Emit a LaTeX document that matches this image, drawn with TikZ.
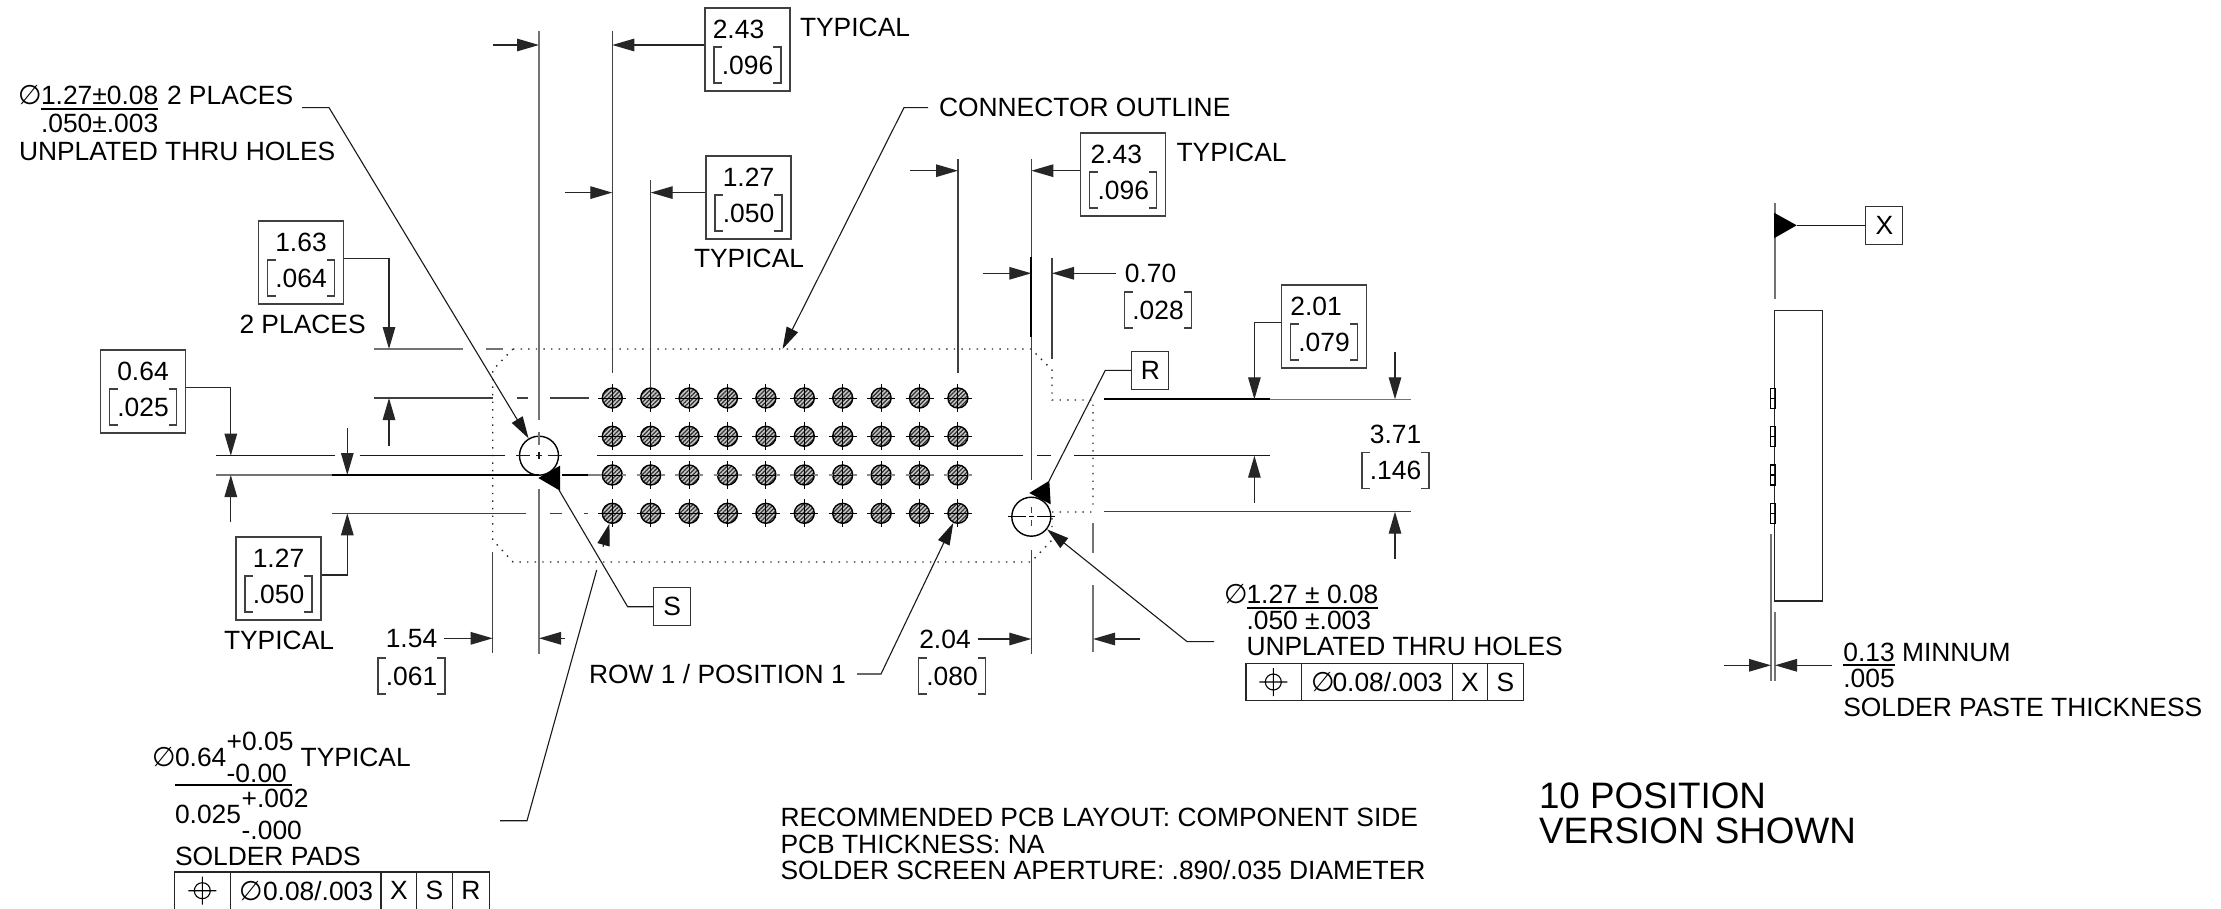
\documentclass[tikz,border=0pt]{standalone}
\usepackage{fontspec}
\setmainfont{Liberation Sans}
\newfontfamily\djv{DejaVu Sans}
\usetikzlibrary{arrows.meta,patterns.meta,calc}
\newcommand{\fs}{\fontsize{26.4}{30}\selectfont}
\newcommand{\fsb}{\fontsize{36.8}{42}\selectfont}
\newcommand{\dia}{{\djv\fontsize{27}{30}\selectfont ∅}}
\tikzset{
  ln/.style={line width=1.3pt,black!75},
  lng/.style={line width=1.6pt,black!55},
  thk/.style={line width=2.2pt,black},
  ldr/.style={line width=1.1pt,black!90},
  dotl/.style={line width=1.4pt,black!85,dash pattern=on 1.4pt off 6.2pt},
  arr/.style={-{Triangle[length=22pt,width=12.5pt]},line width=1.3pt,black!85},
  arrt/.style={-{Triangle[length=22pt,width=12.5pt]},ldr},
  txt/.style={font=\fs,inner sep=0pt,outer sep=0pt,text=black},
  lbl/.style={txt,anchor=base west},
  ctr/.style={txt,anchor=center},
  dbox/.style={draw=black!75,line width=1.3pt,minimum width=85pt,minimum height=83pt,inner sep=0pt},
  lbox/.style={draw=black!80,line width=1.3pt,minimum width=37pt,minimum height=38pt,inner sep=0pt,font=\fs},
  pad/.style={circle,draw=black,line width=1.4pt,minimum size=20pt,inner sep=0pt,
     preaction={fill=black!22},pattern={Lines[angle=45,distance=3pt,line width=1.25pt]},pattern color=black!80},
  hole/.style={circle,draw=black,line width=1.4pt,minimum size=39pt,inner sep=0pt},
  brkl/.style={line width=1.1pt,black!75},
  frm/.style={line width=1.3pt,black!85},
  ul/.style={line width=1.8pt,black},
}
% bracketed value: name, x, y, text
\newcommand{\brk}[4]{%
  \node[ctr] (#1) at (#2,#3) {#4};
  \draw[brkl] ({#2-25.5},{#3-18}) -- ({#2-33.5},{#3-18}) -- ({#2-33.5},{#3+18}) -- ({#2-25.5},{#3+18});
  \draw[brkl] ({#2+25.5},{#3-18}) -- ({#2+33.5},{#3-18}) -- ({#2+33.5},{#3+18}) -- ({#2+25.5},{#3+18});
}
% boxed dimension: name, cx, top, value dx, value, bracket text
\newcommand{\dimbox}[6]{%
  \node[dbox] (#1) at (#2,{#3+41.5}) {};
  \node[ctr] (#1v) at ({#2+#4},{#3+21}) {#5};
  \brk{#1b}{#2}{#3+57}{#6}
}
\begin{document}
\begin{tikzpicture}[x=1pt,y=-1pt]
\useasboundingbox (0,0) rectangle (2221,909);
\fill[white] (0,0) rectangle (2221,909);

% connector outline (dotted)
\draw[dotl] (513,349) -- (1031,349) -- (1052,370) -- (1052,400) -- (1093,400) -- (1093,505);
\draw[dotl] (513,349) -- (492.7,370) -- (492.7,540) -- (513,562) -- (1031,562) -- (1052,540) -- (1052,512) -- (1093,512);

% pads
\foreach \c in {1,...,10}{
 \foreach \r/\py in {1/398,2/436.3,3/475,4/513.3}{
  \pgfmathsetmacro\px{612.3+38.4*(\c-1)}
  \node[pad] (p\c-\r) at (\px,\py) {};
  \draw[line width=1pt,black] ({\px-14},\py) -- ({\px+14},\py) ({\px},{\py-14}) -- ({\px},{\py+14});
 }
}
\foreach \c in {1,...,10}{\pgfmathsetmacro\px{612.3+38.4*(\c-1)}
  \draw[line width=1.6pt,black!45] ({\px-14},475) -- ({\px-10},475) ({\px+10},475) -- ({\px+14},475);}

% holes
\node[hole] (hl) at (539,455.7) {};
\node[hole] (hr) at (1031.3,516.7) {};

% horizontal extension lines, left
\draw[lng] (374,349) -- (462.5,349) (486,349) -- (502.6,349);
\draw[ln] (374,398) -- (493,398);
\draw[ln] (517,398) -- (527.6,398) (550,398) -- (588.5,398);
\draw[ldr] (215.7,455.7) -- (335,455.7) (359.6,455.7) -- (505,455.7) (516,455.7) -- (530,455.7) (536,455.7) -- (542,455.7) (548,455.7) -- (562,455.7);
\draw[ldr] (597,455.7) -- (1023,455.7) (1037,455.7) -- (1051,455.7) (1074,455.7) -- (1270,455.7);
\draw[lng] (215.7,475) -- (331.8,475);
\draw[thk] (331.8,475) -- (539,475) (562,475) -- (588,475);
\draw[line width=1.6pt,black!50] (588,475) -- (600,475);
\draw[ln] (331.8,513.3) -- (526,513.3) (550,513.3) -- (561.6,513.3) (584,513.3) -- (588,513.3);
% horizontal extension lines, right
\draw[line width=1.8pt,black] (1103.8,399.3) -- (1270,399.3);
\draw[lng] (1270,399.3) -- (1411,399.3);
\draw[ln] (1103.8,511.7) -- (1411,511.7);

% vertical extension lines
\draw[lng] (539,31) -- (539,420) (539,432) -- (539,445);
\draw[ldr] (539,452) -- (539,459);
\draw[lng] (539,489) -- (539,654);
\draw[ln] (612.3,31) -- (612.3,373);
\draw[ln] (650.7,180) -- (650.7,388);
\draw[ln] (958,159) -- (958,373);
\draw[ln] (1031.3,159) -- (1031.3,480) (1031.3,507) -- (1031.3,513) (1031.3,520) -- (1031.3,526);
\draw[thk] (1031.3,257) -- (1031.3,337);
\draw[ln] (1031.3,550) -- (1031.3,654);
\draw[ln] (1052,258) -- (1052,359);
\draw[ln] (492.7,552) -- (492.7,653.3);
\draw[lng] (1093,523) -- (1093,553) (1093,585) -- (1093,652);
\draw[line width=1.1pt,black] (1008,516.7) -- (1026,516.7) (1029,516.7) -- (1034,516.7) (1037,516.7) -- (1055,516.7);

% dimension boxes
\dimbox{dA}{747.5}{8}{-9}{2.43}{.096}
\node[lbl] (tA) at (800,37) {TYPICAL};
\dimbox{dB}{748.5}{156}{0}{1.27}{.050}
\node[lbl] (tB) at (694,268) {TYPICAL};
\dimbox{dC}{1123.3}{133}{-7}{2.43}{.096}
\node[lbl] (tC) at (1176.5,162) {TYPICAL};
\dimbox{dD}{1324}{285}{-8}{2.01}{.079}
\dimbox{dE}{301}{221}{0}{1.63}{.064}
\node[lbl] (tE) at (239.5,333) {2 PLACES};
\dimbox{dF}{143}{350}{0}{0.64}{.025}
\dimbox{dG}{278.5}{537}{0}{1.27}{.050}
\node[lbl] (tG) at (224,649) {TYPICAL};

% free dimensions
\node[ctr] (v070) at (1150.6,273.3) {0.70};
\brk{b028}{1158}{310}{.028}
\node[ctr] (v371) at (1395.5,434) {3.71};
\brk{b146}{1395.5}{470.7}{.146}
\node[ctr] (v154) at (411.5,638.3) {1.54};
\brk{b061}{411.5}{676}{.061}
\node[ctr] (v204) at (945,639) {2.04};
\brk{b080}{952}{676}{.080}

% dimension arrows
\coordinate (a1) at (493,45); \coordinate (a1t) at (539,45);
\draw[arr] (a1) -- (a1t);
\draw[arr] (dA.west |- a1) -- (612.3,45);
\draw[arr] (565,192.6) -- (612.3,192.6);
\draw[arr] (dB.west |- 0,192.6) -- (650.7,192.6);
\draw[arr] (910,170.7) -- (958,170.7);
\draw[arr] (dC.west |- 0,170.7) -- (1031.3,170.7);
\draw[arr] (983,273.3) -- (1031.3,273.3);
\draw[arr] (v070.west) ++(-9,0) -- (1052,273.3);
\draw[arr] (dE.east |- 0,258.7) -- (389,258.7) -- (389,349);
\draw[arr] (389,445.7) -- (389,398);
\draw[arr] (dF.east |- 0,387.7) -- (230.8,387.7) -- (230.8,455.7);
\draw[arr] (230.8,522) -- (230.8,475);
\draw[arr] (347.3,427.7) -- (347.3,475);
\draw[arr] (dG.east |- 0,575) -- (347.3,575) -- (347.3,513.3);
\draw[arr] (dD.west |- 0,322.7) -- (1254.4,322.7) -- (1254.4,399.3);
\draw[arr] (1395,352) -- (1395,399.3);
\draw[arr] (1254.4,503) -- (1254.4,455.7);
\draw[arr] (1395,559) -- (1395,511.7);
\draw[arr] (v154.east) ++(7,0) -- (492.7,638.3);
\draw[arr] (565,638.3) -- (539,638.3);
\draw[arr] (v204.east) ++(7,0) -- (1031.3,639);
\draw[arr] (1140,639) -- (1093,639);

% top-left note
\node[lbl] (dl) at (18,105) {\dia};
\node[lbl] (n1a) at (41,105) {1.27±0.08};
\node[lbl] (n1b) at (167,105) {2 PLACES};
\node[lbl] (n1c) at (41,132.5) {.050±.003};
\node[lbl] (n1d) at (19,160.2) {UNPLATED THRU HOLES};
\draw[ul] ([yshift=-4pt]n1a.south west) -- ([yshift=-4pt]n1a.south east);
\coordinate (e1) at (329,107.6);
\draw[arrt] (302,107.6) -- (e1) -- (hl);

% connector outline label
\node[lbl] (co) at (939,117) {CONNECTOR OUTLINE};
\coordinate (e2) at (904,107.6);
\draw[arrt] (928,107.6) -- (e2) -- (782.5,349);

% datum S
\node[lbox] (S) at (672.2,606.7) {S};
\coordinate (e3) at (627.6,606.7);
\draw[ldr] (S.west) -- (e3) -- (559,490);
\fill[black] (538.3,478) -- (560,465.7) -- (560,490.7) -- cycle;

% datum R
\node[lbox] (R) at (1150.3,370.3) {R};
\coordinate (e4) at (1105.3,370.3);
\draw[ldr] (R.west) -- (e4) -- (1049,481);
\fill[black] (1029.3,493) -- (1049.3,480.7) -- (1050.7,504.3) -- cycle;

% row 1 position 1
\node[lbl] (rp) at (589,683) {ROW 1 / POSITION 1};
\coordinate (e5) at (881,674);
\draw[arrt] (857,674) -- (e5) -- (p10-4);

% right hole note
\node[lbl] (n2z) at (1224,603.5) {\dia};
\node[lbl] (n2a) at (1246.5,603.5) {1.27 ± 0.08};
\node[lbl] (n2b) at (1246.5,629.5) {.050 ±.003};
\node[lbl] (n2c) at (1246.5,655) {UNPLATED THRU HOLES};
\draw[ul] ([yshift=-4pt]n2a.south west) -- ([yshift=-4pt]n2a.south east);
\coordinate (e6) at (1187,641.6);
\draw[arrt] (1214,641.6) -- (e6) -- (hr);

% right frame
\draw[frm] (1246,663.3) rectangle (1523.3,700.7);
\draw[frm] (1301.7,663.3) -- (1301.7,700.7) (1452.3,663.3) -- (1452.3,700.7) (1487.7,663.3) -- (1487.7,700.7);
\node[ctr] (f1) at (1273.3,682) {};
\draw[line width=1.1pt,black] (f1) circle (8) ({1273.3-14},682) -- ({1273.3+14},682) (1273.3,668) -- (1273.3,696);
\node[lbl] (f2a) at (1311,691.5) {\dia};
\node[lbl] (f2) at (1332.5,691.5) {0.08/.003};
\node[ctr] (f3) at (1470,682) {X};
\node[ctr] (f4) at (1505.5,682) {S};

% bottom-left note
\node[lbl] (n3z) at (152,766.7) {\dia};
\node[lbl] (n3a) at (175,766.7) {0.64};
\node[lbl] (n3b) at (226.7,750.7) {+0.05};
\node[lbl] (n3c) at (226.7,782.7) {-0.00};
\node[lbl] (n3d) at (300.7,766.7) {TYPICAL};
\draw[ul] (175,785) -- (292,785);
\node[lbl] (n3e) at (175,823) {0.025};
\node[lbl] (n3f) at (241.7,807.7) {+.002};
\node[lbl] (n3g) at (241.7,839) {-.000};
\node[lbl] (n3h) at (175,865) {SOLDER PADS};
\draw[frm] (174.3,909) -- (174.3,872) -- (489.3,872) -- (489.3,909);
\draw[frm] (230.7,872) -- (230.7,909) (381,872) -- (381,909) (416.7,872) -- (416.7,909) (452.3,872) -- (452.3,909);
\node[ctr] (f5) at (202.3,890.7) {};
\draw[line width=1.1pt,black] (f5) circle (8) ({202.3-14},890.7) -- ({202.3+14},890.7) (202.3,876.7) -- (202.3,904.7);
\node[lbl] (f6a) at (239,900) {\dia};
\node[lbl] (f6) at (263,900) {0.08/.003};
\node[ctr] (f7) at (398.8,890.7) {X};
\node[ctr] (f8) at (434.5,890.7) {S};
\node[ctr] (f9) at (470.8,890.7) {R};
\coordinate (e7) at (527,820.7);
\draw[ldr] (500,820.7) -- (e7) -- (596.7,570);
\draw[arrt] (603,546.7) -- (p1-4);

% general notes
\node[lbl] (g1) at (780.5,826) {RECOMMENDED PCB LAYOUT: COMPONENT SIDE};
\node[lbl] (g2) at (780.5,853) {PCB THICKNESS: NA};
\node[lbl] (g3) at (780.5,879.5) {SOLDER SCREEN APERTURE: .890/.035 DIAMETER};
\node[lbl,font=\fsb] (g4) at (1539,808) {10 POSITION};
\node[lbl,font=\fsb] (g5) at (1539,843) {VERSION SHOWN};

% side view
\draw[frm] (1774.7,310.3) rectangle (1822.7,601);
\foreach \t in {388.3,426.3,465,503.3}{
  \draw[line width=1.1pt,black] (1770.7,\t) rectangle (1775.7,{\t+20}) (1770.7,{\t+10}) -- (1775.7,{\t+10});
}
\draw[lng] (1775,202.7) -- (1775,299);
\node[lbox] (X) at (1884.3,225.3) {X};
\coordinate (e8) at (1796.7,225.3);
\draw[ldr] (X.west) -- (e8);
\fill[black] (1774,212.7) -- (1796.7,225.3) -- (1774,238.3) -- cycle;
\draw[lng] (1771,534) -- (1771,680.7);
\draw[lng] (1775,612) -- (1775,680.7);
\draw[arr] (1724,665.3) -- (1771,665.3);
\draw[arr] (1832,665.3) -- (1775,665.3);
\node[lbl] (m1) at (1843.3,661) {0.13};
\node[lbl] (m2) at (1902,661) {MINNUM};
\node[lbl] (m3) at (1843.3,687) {.005};
\node[lbl] (m4) at (1843.3,716) {SOLDER PASTE THICKNESS};
\draw[ul] ([yshift=-4pt]m1.south west) -- ([yshift=-4pt]m1.south east);
\end{tikzpicture}
\end{document}
